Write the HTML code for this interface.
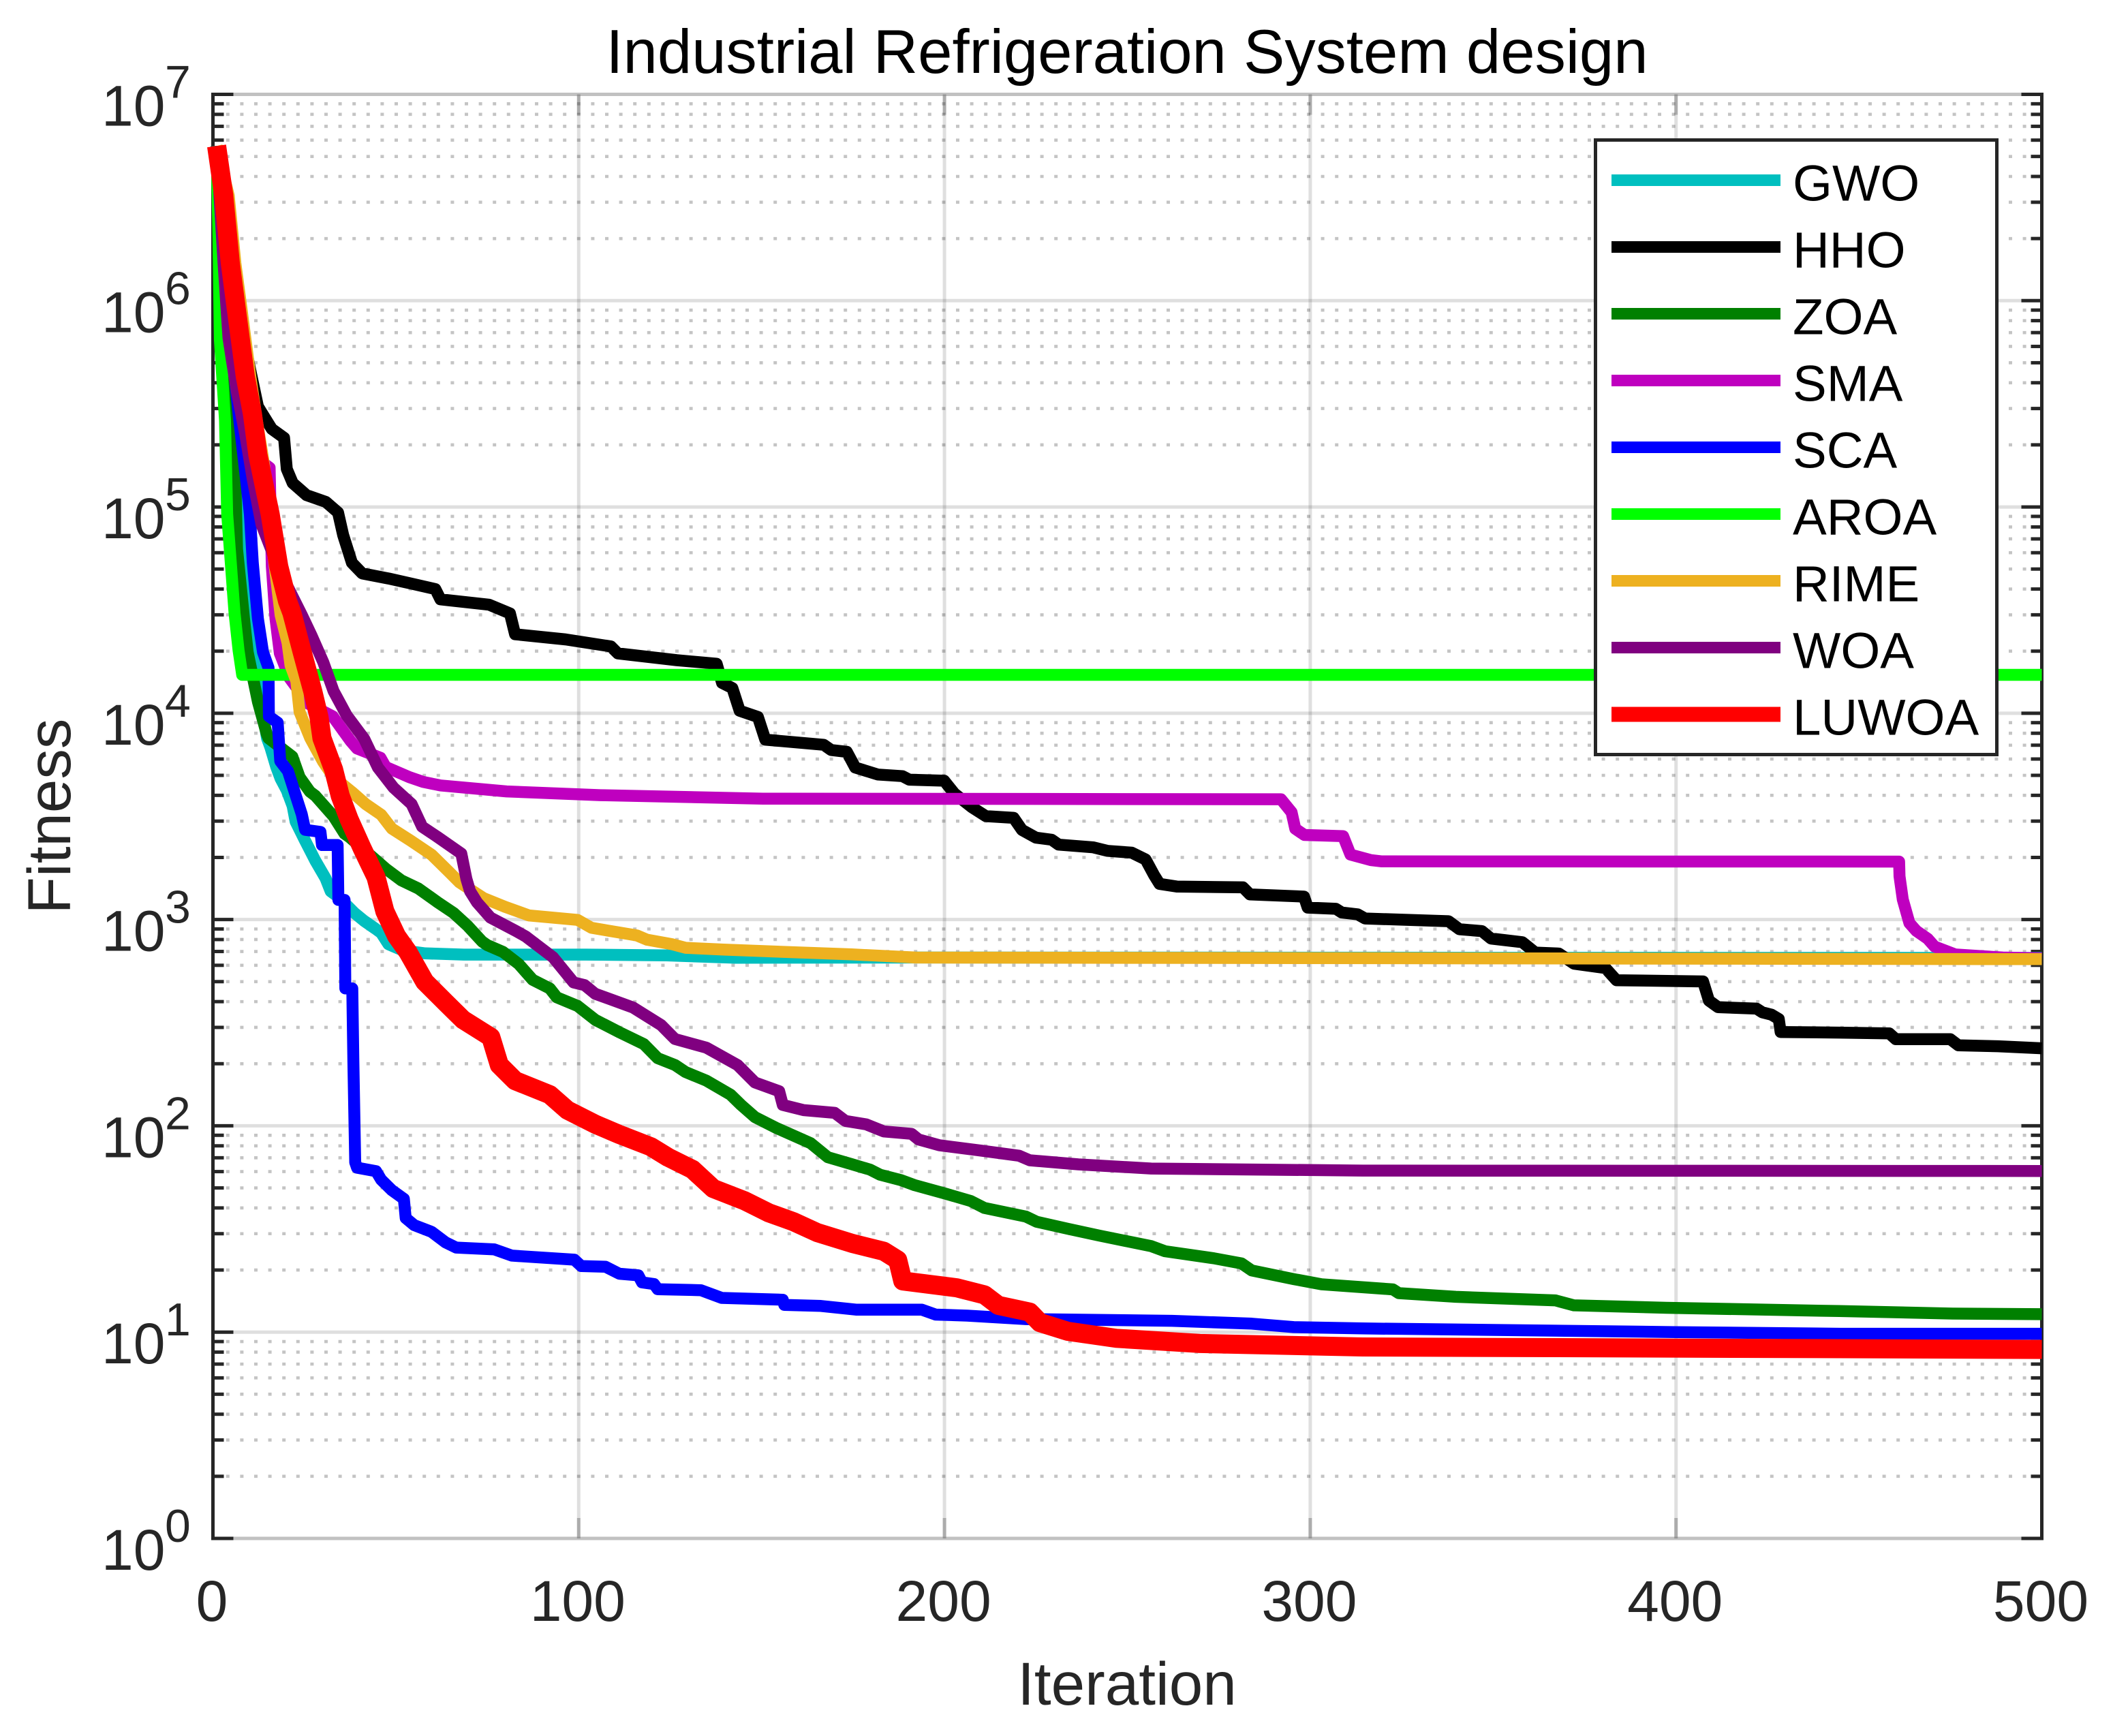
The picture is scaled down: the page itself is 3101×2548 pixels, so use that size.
<!DOCTYPE html>
<html lang="en">
<head>
<meta charset="utf-8">
<title>Industrial Refrigeration System design</title>
<style>
html,body{margin:0;padding:0;background:#fff;}
svg{display:block;}
text{font-family:"Liberation Sans",Arial,sans-serif;}
</style>
</head>
<body>
<svg id="chart" xmlns="http://www.w3.org/2000/svg" width="3101" height="2548" viewBox="0 0 3101 2548">
  <rect x="0" y="0" width="3101" height="2548" fill="#ffffff"/>
  <g id="grid"></g>
  <g id="axes"></g>
  <g id="series"></g>
  <g id="ticklabels"></g>
  <text x="1654" y="107" font-size="90.5" text-anchor="middle" fill="#000000">Industrial Refrigeration System design</text>
  <text x="1654" y="2502" font-size="89" text-anchor="middle" fill="#262626">Iteration</text>
  <text x="103" y="1198" font-size="89" text-anchor="middle" fill="#262626" transform="rotate(-90 103 1198)">Fitness</text>
  <g id="legend"></g>
</svg>
<script>
// Axis ticks
const xTickValues = [0, 100, 200, 300, 400, 500];
const yTickExponents = [0, 1, 2, 3, 4, 5, 6, 7];
const minorMultipliers = [2, 3, 4, 5, 6, 7, 8, 9];

// Series names and colours (legend order)
const seriesNames = ['GWO', 'HHO', 'ZOA', 'SMA', 'SCA', 'AROA', 'RIME', 'WOA', 'LUWOA'];
const seriesColors = ['#00bfbf', '#000000', '#008000', '#bf00bf', '#0000ff', '#00ff00', '#edb120', '#800080', '#ff0000'];

// Values: iteration and log10(fitness)
const gwoIter = [1,2.5,4,5.4,6.5,7.1,7.9,8.4,9.5,10.7,12.3,13.75,14.8,15.7,17.3,18.5,20.2,21.8,22.6,25.1,28,30.8,32.2,34.4,38.7,41.3,44.4,46,48,52,58,68.6,102,124,143,192,500];
const gwoLog = [6.75,6.35,5.9,5.55,5.42,5.3,5.05,4.8,4.577,4.4,4.246,3.987,3.879,3.835,3.74,3.683,3.626,3.55,3.475,3.386,3.285,3.2,3.137,3.108,3.032,2.994,2.956,2.935,2.88,2.85,2.836,2.83,2.83,2.826,2.815,2.816,2.814];

const hhoIter = [1,3,5,8,12.3,13.75,16.1,19.45,20.2,21.8,25.6,30.9,34.2,35.6,38,40.8,48,54.6,60.8,62.2,75.5,81.2,82.6,96.4,108.8,110.7,126.8,137.7,139.2,142,144,149,151,167,169,173.3,175.6,181.8,188.5,190.4,199.9,202.7,207.5,211.3,218.9,221.2,225,229.3,231.2,240.7,244.5,251.2,255,257.3,258.8,263.5,281.6,283.5,298.3,299.3,307,308.6,313,315,337.8,340.8,346.9,349.4,358,361.5,368,372.1,380.7,383.7,407.4,409,411.5,422,423.6,426.1,428.1,428.6,444.6,458.3,460.1,475,477.2,488,500];
const hhoLog = [6.75,6.4,6.15,5.85,5.487,5.445,5.378,5.335,5.184,5.116,5.057,5.024,4.973,4.864,4.729,4.678,4.653,4.627,4.602,4.552,4.526,4.484,4.383,4.358,4.324,4.29,4.257,4.24,4.147,4.122,4.012,3.982,3.872,3.847,3.822,3.813,3.737,3.703,3.695,3.678,3.673,3.611,3.544,3.501,3.493,3.434,3.397,3.387,3.363,3.35,3.333,3.324,3.291,3.215,3.173,3.16,3.156,3.122,3.111,3.058,3.052,3.034,3.025,3.005,2.992,2.953,2.944,2.908,2.89,2.84,2.835,2.786,2.765,2.706,2.7,2.607,2.575,2.568,2.55,2.539,2.518,2.455,2.452,2.448,2.42,2.42,2.39,2.386,2.376];

const zoaIter = [1,2.5,4.25,5.1,6,6.6,8.5,9.5,12.3,14.7,15.2,21.7,23.7,26.5,28,33,36,37.3,47.2,51.5,56.2,61.5,65.8,69.6,73.6,75,79.3,83.6,87.4,92.1,94,99.7,104.5,111,117.8,121.6,126.3,129.2,134.9,141.5,144.4,148.2,153.9,163.4,168.1,174.6,179.6,182.4,188.1,191.9,200.5,207.1,210.9,222.3,225.2,233.7,242.3,256.5,260.3,273.6,281.2,284,295.5,303.1,322.6,324.2,339.8,367,372.1,397.3,444.6,475.6,500];
const zoaLog = [6.75,6.3,5.64,5.52,5.22,4.796,4.46,4.296,4.056,3.9,3.879,3.79,3.69,3.62,3.6,3.5,3.416,3.4,3.247,3.19,3.15,3.083,3.032,2.97,2.893,2.876,2.843,2.784,2.708,2.666,2.623,2.581,2.514,2.455,2.396,2.328,2.295,2.261,2.219,2.151,2.101,2.042,1.991,1.916,1.848,1.814,1.788,1.763,1.737,1.712,1.67,1.636,1.602,1.56,1.535,1.501,1.468,1.417,1.392,1.358,1.333,1.299,1.257,1.232,1.207,1.189,1.171,1.154,1.13,1.118,1.102,1.09,1.087];

const smaIter = [1,5,11,15.5,15.8,16.1,17.1,18.3,20.9,26.1,32.75,37.6,39.4,45.8,47.2,53.7,57.5,62.2,80.3,105.9,150.4,292,294.9,295.9,298.4,309,311,316.6,319.6,461,461.1,462,463.8,465.7,468.8,470.7,476.3,489.3,500];
const smaLog = [6.75,5.7,5.25,5.19,4.95,4.712,4.459,4.29,4.172,4.046,3.985,3.866,3.829,3.784,3.74,3.69,3.667,3.65,3.621,3.603,3.586,3.583,3.52,3.44,3.41,3.404,3.315,3.288,3.282,3.281,3.21,3.097,2.983,2.945,2.907,2.869,2.831,2.816,2.812];

const scaIter = [1,3,5,7,8.5,10.1,10.9,12.3,13.7,15.2,15.3,17.7,18.4,20.5,24.3,25.2,29.4,29.8,34.1,34.3,36,36.2,38.1,38.4,38.9,39.4,44.6,46,48.9,52.2,52.7,55,59.8,63.6,66.5,76.9,81.7,98.8,100.7,107.3,111.1,116.3,117.3,120.6,121.6,133.4,139.1,155.8,156.2,166.2,175.8,193.8,197.6,206.2,222.3,262.2,284,295.5,314.3,400,445,500];
const scaLog = [6.75,6.3,5.8,5.45,5.22,4.965,4.729,4.459,4.296,4.22,3.985,3.955,3.768,3.72,3.51,3.435,3.425,3.361,3.361,3.095,3.095,2.666,2.666,2.312,1.823,1.797,1.78,1.739,1.688,1.646,1.553,1.519,1.486,1.435,1.41,1.401,1.371,1.351,1.32,1.317,1.283,1.275,1.241,1.233,1.208,1.203,1.166,1.157,1.132,1.127,1.109,1.109,1.085,1.08,1.063,1.055,1.041,1.024,1.018,1.0,0.992,0.992];

const aroaIter = [1,1.5,1.9,3.3,3.9,5.9,7,8,500];
const aroaLog = [6.75,6.3,5.81,5.42,4.965,4.486,4.305,4.186,4.186];

const rimeIter = [1,4.3,6.15,7.8,10.25,12,14,16.3,18.5,20.4,21.2,22.8,23.7,26.6,30.1,33,38,41.8,46,48.9,54.1,59.8,64.6,67.4,69.3,74,79.8,86.4,99.7,103.5,115.9,118.7,125.4,129.2,139.6,174.6,192,500];
const rimeLog = [6.75,6.51,6.18,5.96,5.63,5.42,5.2,4.8,4.476,4.341,4.233,4.156,4.006,3.879,3.765,3.69,3.618,3.559,3.508,3.441,3.382,3.314,3.23,3.18,3.158,3.104,3.062,3.02,2.998,2.96,2.923,2.902,2.881,2.863,2.854,2.831,2.816,2.808];

const woaIter = [1,2,2.9,4.25,5.1,6.6,8.85,10.9,13.3,18,24.3,27,30.2,33,36.55,41.4,45.1,49.4,54.3,57.2,61.5,67.9,69.3,70.3,72.2,75.9,82.9,85.5,93,98.6,101.6,104.5,114.9,122.5,126.3,134.9,143.4,148.2,154.8,155.8,161.5,170,172.9,178.6,183.4,191,192.9,198.6,210,220.4,223.3,236.6,256.5,314.3,500];
const woaLog = [6.75,6.45,6.18,5.82,5.72,5.554,5.35,5.133,4.914,4.7,4.476,4.375,4.246,4.107,3.99,3.875,3.737,3.639,3.56,3.45,3.399,3.32,3.197,3.137,3.083,3.009,2.944,2.918,2.817,2.695,2.682,2.64,2.573,2.489,2.421,2.379,2.295,2.21,2.168,2.101,2.076,2.063,2.024,2.007,1.973,1.961,1.934,1.906,1.88,1.855,1.833,1.813,1.793,1.783,1.781];

const luwoaIter = [1,2.95,4.75,6.37,8.85,10.8,12.3,15.65,18,20.4,21.6,24.4,27.3,29,29.8,33,34.8,37.2,40.8,44.6,47,50.2,53.3,57.9,63.6,68.4,75.96,78.3,82.6,92.1,96.9,104.5,111.1,119.7,124.4,131.1,136.8,145.3,152,158.6,165.3,174.8,183.4,187.2,188.6,203.3,210.9,214.7,223.3,226.1,233.7,247,269.8,314.3,500];
const luwoaLog = [6.75,6.512,6.182,5.962,5.632,5.45,5.251,4.965,4.712,4.543,4.486,4.296,4.107,3.98,3.879,3.727,3.6,3.487,3.345,3.205,3.04,2.92,2.843,2.699,2.598,2.514,2.43,2.295,2.219,2.151,2.076,2.008,1.958,1.899,1.848,1.789,1.696,1.637,1.578,1.536,1.482,1.43,1.392,1.35,1.248,1.215,1.181,1.13,1.097,1.046,1.004,0.97,0.945,0.928,0.916];

const seriesIters = [gwoIter, hhoIter, zoaIter, smaIter, scaIter, aroaIter, rimeIter, woaIter, luwoaIter];
const seriesLogs = [gwoLog, hhoLog, zoaLog, smaLog, scaLog, aroaLog, rimeLog, woaLog, luwoaLog];

// Plot geometry
const plotLeft = 312.5, plotRight = 2996.5, plotTop = 138.5, plotBottom = 2258;
const xMin = 0, xMax = 500, yMin = 0, yMax = 7;
const xAxis = function (iter) { return plotLeft + (iter - xMin) / (xMax - xMin) * (plotRight - plotLeft); };
const yAxis = function (logValue) { return plotBottom - (logValue - yMin) / (yMax - yMin) * (plotBottom - plotTop); };

const NS = 'http://www.w3.org/2000/svg';
const make = function (parent, tag, attrs) {
  const el = document.createElementNS(NS, tag);
  for (const k in attrs) { el.setAttribute(k, attrs[k]); }
  parent.appendChild(el);
  return el;
};
const gridGroup = document.getElementById('grid');
const axesGroup = document.getElementById('axes');
const seriesGroup = document.getElementById('series');
const labelGroup = document.getElementById('ticklabels');
const legendGroup = document.getElementById('legend');

const gridInk = 'rgba(38,38,38,0.15)';
const dotInk = 'rgba(38,38,38,0.27)';
const sideInk = '#262626';
const xAxisInk = '#c1c1c1';

// Gridlines
xTickValues.forEach(function (v) {
  if (v === xMin || v === xMax) { return; }
  const line = make(gridGroup, 'line', { x1: xAxis(v), x2: xAxis(v), y1: plotTop, y2: plotBottom, stroke: gridInk, 'stroke-width': 5 });
  
  
});
yTickExponents.forEach(function (e) {
  if (e !== yMin && e !== yMax) {
    const line = make(gridGroup, 'line', { x1: plotLeft, x2: plotRight, y1: yAxis(e), y2: yAxis(e), stroke: gridInk, 'stroke-width': 5 });
    
    
  }
  if (e === yMax) { return; }
  minorMultipliers.forEach(function (m) {
    const yy = yAxis(e + Math.log10(m));
    const dots = make(gridGroup, 'line', { x1: 311.2, x2: plotRight, y1: yy, y2: yy, stroke: dotInk, 'stroke-width': 4.6, 'stroke-dasharray': '5 15.6' });
    
    
    const tl = make(axesGroup, 'line', { x1: plotLeft, x2: plotLeft + 16, y1: yy, y2: yy, stroke: sideInk, 'stroke-width': 5 });
    
    
    const tr = make(axesGroup, 'line', { x1: plotRight - 16, x2: plotRight, y1: yy, y2: yy, stroke: sideInk, 'stroke-width': 5 });
    
    
  });
});

// X axis lines (light) and ticks
[plotTop, plotBottom].forEach(function (yy) {
  const line = make(axesGroup, 'line', { x1: plotLeft, x2: plotRight, y1: yy, y2: yy, stroke: xAxisInk, 'stroke-width': 5 });
  
  
});
xTickValues.forEach(function (v) {
  const xx = xAxis(v);
  if (v !== xMin && v !== xMax) {
    const tb = make(axesGroup, 'line', { x1: xx, x2: xx, y1: plotBottom - 30, y2: plotBottom, stroke: 'rgba(38,38,38,0.28)', 'stroke-width': 5 });
    
    
    const tt = make(axesGroup, 'line', { x1: xx, x2: xx, y1: plotTop, y2: plotTop + 30, stroke: 'rgba(38,38,38,0.28)', 'stroke-width': 5 });
    
    
  }
  const label = make(labelGroup, 'text', { x: xx - 1.5, y: 2379, 'font-size': 84, 'text-anchor': 'middle', fill: sideInk });
  
  
  label.textContent = String(v);
});

// Y axis lines, major ticks, labels
[plotLeft, plotRight].forEach(function (xx) {
  const line = make(axesGroup, 'line', { x1: xx, x2: xx, y1: plotTop - 2.5, y2: plotBottom + 2.5, stroke: sideInk, 'stroke-width': 5 });
  
  
});
yTickExponents.forEach(function (e) {
  const yy = yAxis(e);
  const tl = make(axesGroup, 'line', { x1: plotLeft, x2: plotLeft + 30, y1: yy, y2: yy, stroke: sideInk, 'stroke-width': 5 });
  
  
  const tr = make(axesGroup, 'line', { x1: plotRight - 30, x2: plotRight, y1: yy, y2: yy, stroke: sideInk, 'stroke-width': 5 });
  
  
  const base = make(labelGroup, 'text', { x: 149, y: yy + 46, 'font-size': 84, fill: sideInk });
  
  
  base.textContent = '10';
  const sup = make(labelGroup, 'text', { x: 242, y: yy + 5, 'font-size': 68, fill: sideInk });
  
  
  sup.textContent = String(e);
});

// Series lines
seriesNames.forEach(function (name, i) {
  const iters = seriesIters[i];
  const logs = seriesLogs[i];
  const pts = iters.map(function (v, k) { return xAxis(v).toFixed(1) + ',' + yAxis(logs[k]).toFixed(1); }).join(' ');
  const line = make(seriesGroup, 'polyline', { points: pts, fill: 'none', stroke: seriesColors[i], 'stroke-width': name === 'LUWOA' ? 28 : 17.5, 'stroke-linejoin': 'round', 'stroke-linecap': 'butt' });
  
  
});

// Legend
const legendBox = make(legendGroup, 'rect', { x: 2341.5, y: 205.5, width: 589, height: 902, fill: '#ffffff', stroke: sideInk, 'stroke-width': 5 });


seriesNames.forEach(function (name, i) {
  const cy = 264.5 + i * 98;
  const sw = make(legendGroup, 'line', { x1: 2365, x2: 2613, y1: cy, y2: cy, stroke: seriesColors[i], 'stroke-width': name === 'LUWOA' ? 22 : 17 });
  
  
  const label = make(legendGroup, 'text', { x: 2631, y: cy + 30, 'font-size': 74.5, fill: '#000000' });
  
  
  label.textContent = name;
});
</script>
</body>
</html>
